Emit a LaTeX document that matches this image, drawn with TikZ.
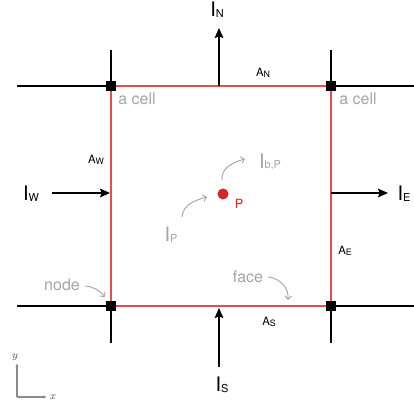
\documentclass[tikz,border=0pt]{standalone}
\usepackage{fontspec}
\usetikzlibrary{arrows.meta}
\newfontfamily\hel{TeX Gyre Heros}
\definecolor{cellred}{RGB}{228,78,78}
\definecolor{dotred}{RGB}{212,40,40}
\definecolor{txtgray}{RGB}{165,165,165}
\definecolor{axgray}{RGB}{140,140,140}
\definecolor{axtext}{RGB}{80,80,80}
\newcommand{\bigI}[1]{{\fontsize{15}{16}\selectfont I}\raisebox{-0.6pt}{\fontsize{8.2}{9}\selectfont #1}}
\newcommand{\areaA}[1]{{\fontsize{8.5}{9}\selectfont A}\raisebox{-0.5pt}{\fontsize{6.6}{7}\selectfont #1}}
\begin{document}
\begin{tikzpicture}[x=0.75pt,y=0.75pt,
  gridline/.style={line width=1.1pt,black},
  cellline/.style={line width=0.9pt,cellred},
  flux/.style={line width=1.1pt,black,-{Stealth[length=7.5pt,width=6.5pt,inset=1.2pt]}},
  sq/.style={fill=black,draw=none,minimum size=6.8pt,inner sep=0pt,outer sep=0pt},
  lab/.style={font=\hel,inner sep=0pt},
  graylab/.style={font=\hel\fontsize{12}{13}\selectfont,text=txtgray,inner sep=0pt},
  grayarrow/.style={line width=0.7pt,txtgray,-{Straight Barb[length=2.5pt,width=5pt]}},
  axis/.style={line width=0.9pt,axgray,-{Latex[length=3pt,width=2.5pt]}}]
\useasboundingbox (0,0) rectangle (414,410);
% corners
\coordinate (cNW) at (111,324);
\coordinate (cNE) at (331,324);
\coordinate (cSW) at (111,104);
\coordinate (cSE) at (331,104);
% grid line ends
\coordinate (tl) at (17,324);
\coordinate (tr) at (414,324);
\coordinate (bl) at (17,104);
\coordinate (br) at (414,104);
\coordinate (tnw) at (111,360);
\coordinate (tne) at (331,360);
\coordinate (bsw) at (111,67);
\coordinate (bse) at (331,67);
\draw[gridline] (tl) -- (cNW) (cNE) -- (tr);
\draw[gridline] (bl) -- (cSW) (cSE) -- (br);
\draw[gridline] (tnw) -- (cNW) (tne) -- (cNE);
\draw[gridline] (bsw) -- (cSW) (bse) -- (cSE);
% cell
\draw[cellline] (cNW) -- (cNE) -- (cSE) -- (cSW) -- cycle;
\node[sq] (nw) at (cNW) {};
\node[sq] (ne) at (cNE) {};
\node[sq] (sw) at (cSW) {};
\node[sq] (se) at (cSE) {};
% fluxes
\coordinate (nface) at (219,324);
\coordinate (ntip) at (219,382);
\draw[flux] (nface) -- (ntip);
\node[lab] (IN) at (217,400) {\bigI{N}};
\coordinate (sstart) at (219,43);
\coordinate (stip) at (219,102);
\draw[flux] (sstart) -- (stip);
\node[lab] (IS) at (222,25) {\bigI{S}};
\coordinate (wstart) at (52,217);
\coordinate (wtip) at (110,217);
\draw[flux] (wstart) -- (wtip);
\node[lab] (IW) at (31,216) {\bigI{W}};
\coordinate (eface) at (331,217);
\coordinate (etip) at (388,217);
\draw[flux] (eface) -- (etip);
\node[lab] (IE) at (404,216) {\bigI{E}};
% areas
\node[lab] (AN) at (263,337) {\areaA{N}};
\node[lab] (AW) at (96,250) {\areaA{W}};
\node[lab] (AE) at (345,159) {\areaA{E}};
\node[lab] (AS) at (269,88) {\areaA{S}};
% labels
\node[graylab] (cell1) at (137,311) {a cell};
\node[graylab] (cell2) at (358,311) {a cell};
% point P
\node[circle,fill=dotred,minimum size=8.3pt,inner sep=0pt] (P) at (223,216) {};
\node[lab,text=dotred] (Plab) at (239,206) {{\fontsize{9.5}{10}\selectfont P}};
\node[lab,text=txtgray] (IbP) at (270,248) {\bigI{b,P}};
\node[lab,text=txtgray] (IP) at (171,175) {\bigI{P}};
\coordinate (bpS) at (222,230);
\coordinate (bpE) at (245,251);
\draw[grayarrow] (bpS) to[out=95,in=195] (bpE);
\coordinate (ipS) at (182,193);
\coordinate (ipE) at (207,213);
\draw[grayarrow] (ipS) to[out=85,in=195] (ipE);
% face and node
\node[graylab] (face) at (248,133) {face};
\coordinate (fS) at (268,133);
\coordinate (fE) at (288,110);
\draw[grayarrow] (fS) to[out=-5,in=85] (fE);
\node[graylab] (nodelab) at (62,125) {node};
\coordinate (nS) at (85,124);
\coordinate (nE) at (105,113);
\draw[grayarrow] (nS) to[out=-5,in=130] (nE);
% axes
\coordinate (O) at (17,13);
\coordinate (Ytip) at (17,47);
\coordinate (Xtip) at (47,13);
\draw[axis] (O) -- (Ytip);
\draw[axis] (O) -- (Xtip);
\node[inner sep=0pt,text=axtext] (ylab) at (15,53) {\footnotesize $y$};
\node[inner sep=0pt,text=axtext] (xlab) at (53,13) {\footnotesize $x$};
\end{tikzpicture}
\end{document}
